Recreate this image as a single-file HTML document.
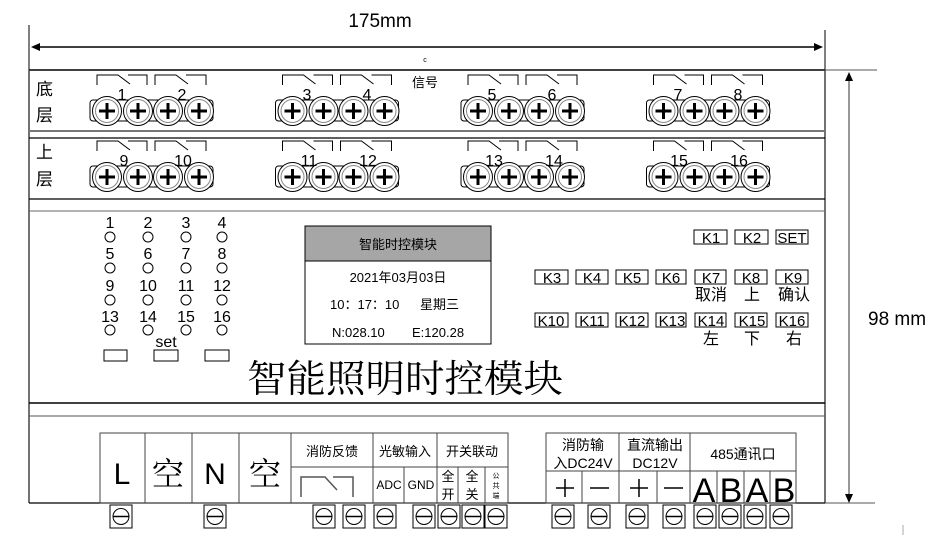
<!DOCTYPE html>
<html><head><meta charset="utf-8"><style>
html,body{margin:0;padding:0;background:#fff}
svg{display:block}
text{font-family:"Liberation Sans","Noto Sans CJK SC",sans-serif;fill:#000}
.s{font-family:"Noto Serif CJK SC","Liberation Serif",serif}
</style></head><body>
<svg width="944" height="537" viewBox="0 0 944 537" xmlns="http://www.w3.org/2000/svg">
<defs>
<symbol id="scr" overflow="visible">
<circle cx="0" cy="0" r="14.5" fill="#fff" stroke="#000" stroke-width="1"/>
<circle cx="0" cy="0" r="11.5" fill="#fff" stroke="#888" stroke-width="1"/>
<path d="M-8 0H8M0 -8V8" stroke="#000" stroke-width="3"/>
</symbol>
<symbol id="grp" overflow="visible">
<rect x="-17" y="-11" width="123" height="21" rx="3" fill="none" stroke="#000"/>
<use href="#scr" x="0" y="0"/><use href="#scr" x="31" y="0"/><use href="#scr" x="61" y="0"/><use href="#scr" x="92" y="0"/>
<path d="M-10 -26V-36H11L23 -27M21 -36H40V-26" fill="none" stroke="#000"/>
<path d="M48 -26V-36H69L81 -27M79 -36H99V-26" fill="none" stroke="#000"/>
</symbol>
<symbol id="bs" overflow="visible">
<rect x="0" y="0" width="22" height="23" fill="#fff" stroke="#000"/>
<circle cx="11" cy="11.5" r="8" fill="none" stroke="#000"/>
<path d="M3 11.5H19" stroke="#000" stroke-width="1.5"/>
</symbol>
</defs>

<path d="M29 25V70M825 30V70" stroke="#000"/>
<path d="M36 47H818" stroke="#000" stroke-width="1.5"/>
<path d="M31 47L40 43V51Z M823 47L814 43V51Z" fill="#000"/>
<text x="380" y="27" font-size="19" text-anchor="middle">175mm</text>
<text x="425" y="62" font-size="7" text-anchor="middle">c</text>

<path d="M825 70H877M825 503H875" stroke="#555"/>
<path d="M849 78V496" stroke="#777" stroke-width="1.5"/>
<path d="M849 72L845 81H853Z M849 503L845 494H853Z" fill="#000"/>
<text x="868" y="325" font-size="19">98 mm</text>
<path d="M903 525V535" stroke="#aaa"/>

<path d="M29 70H825" stroke="#000" stroke-width="1.5"/>
<path d="M29 70V503M825 70V503" stroke="#444" stroke-width="1.5"/>
<path d="M29 131H825" stroke="#777" stroke-width="2"/>
<path d="M29 138H825M29 199H825" stroke="#000" stroke-width="1.2"/>
<path d="M29 211H825" stroke="#666" stroke-width="1"/>
<path d="M29 403H825" stroke="#000" stroke-width="1.5"/>
<path d="M29 416H825" stroke="#555" stroke-width="1"/>
<path d="M29 503H825" stroke="#000" stroke-width="1.2"/>

<text x="36" y="95" font-size="17">底</text>
<text x="36" y="121" font-size="17">层</text>
<text x="36" y="158" font-size="17">上</text>
<text x="36" y="185" font-size="17">层</text>
<text x="412" y="87" font-size="13">信号</text>

<use href="#grp" x="107" y="111"/><use href="#grp" x="292.5" y="111"/>
<use href="#grp" x="478" y="111"/><use href="#grp" x="663.5" y="111"/>
<use href="#grp" x="107" y="177"/><use href="#grp" x="292.5" y="177"/>
<use href="#grp" x="478" y="177"/><use href="#grp" x="663.5" y="177"/>
<g font-size="16" text-anchor="middle">
<text x="122" y="100">1</text><text x="182" y="100">2</text>
<text x="307" y="100">3</text><text x="367" y="100">4</text>
<text x="492" y="100">5</text><text x="552" y="100">6</text>
<text x="678" y="100">7</text><text x="738" y="100">8</text>
<text x="124" y="166">9</text><text x="183" y="166">10</text>
<text x="309" y="166">11</text><text x="368" y="166">12</text>
<text x="494" y="166">13</text><text x="554" y="166">14</text>
<text x="679" y="166">15</text><text x="739" y="166">16</text>
</g>

<g font-size="16" text-anchor="middle">
<text x="110" y="228">1</text><text x="148" y="228">2</text><text x="186" y="228">3</text><text x="222" y="228">4</text>
<text x="110" y="259">5</text><text x="148" y="259">6</text><text x="186" y="259">7</text><text x="222" y="259">8</text>
<text x="110" y="291">9</text><text x="148" y="291">10</text><text x="186" y="291">11</text><text x="222" y="291">12</text>
<text x="110" y="322">13</text><text x="148" y="322">14</text><text x="186" y="322">15</text><text x="222" y="322">16</text>
<text x="166" y="347">set</text>
</g>
<g fill="none" stroke="#000">
<circle cx="110" cy="237" r="5"/><circle cx="148" cy="237" r="5"/><circle cx="186" cy="237" r="5"/><circle cx="222" cy="237" r="5"/>
<circle cx="110" cy="268" r="5"/><circle cx="148" cy="268" r="5"/><circle cx="186" cy="268" r="5"/><circle cx="222" cy="268" r="5"/>
<circle cx="110" cy="300" r="5"/><circle cx="148" cy="300" r="5"/><circle cx="186" cy="300" r="5"/><circle cx="222" cy="300" r="5"/>
<circle cx="110" cy="330" r="5"/><circle cx="148" cy="330" r="5"/><circle cx="186" cy="330" r="5"/><circle cx="222" cy="330" r="5"/>
<rect x="104" y="350" width="23" height="11"/><rect x="154" y="350" width="24" height="11"/><rect x="205" y="350" width="24" height="11"/>
</g>

<rect x="305" y="226" width="186" height="35" fill="#a6a6a6" stroke="#000"/>
<rect x="305" y="261" width="186" height="83" fill="#fff" stroke="#000"/>
<text x="398" y="249" font-size="13" text-anchor="middle">智能时控模块</text>
<text x="398" y="282" font-size="13" text-anchor="middle">2021年03月03日</text>
<text x="330" y="309" font-size="13">10：17：10</text>
<text x="420" y="309" font-size="13">星期三</text>
<text x="332" y="337" font-size="13">N:028.10</text>
<text x="412" y="337" font-size="13">E:120.28</text>

<text class="s" x="247" y="392" font-size="38" textLength="316" lengthAdjust="spacingAndGlyphs">智能照明时控模块</text>

<g fill="none" stroke="#000">
<rect x="694" y="230" width="33" height="14"/><rect x="735" y="230" width="33" height="14"/><rect x="776" y="230" width="32" height="14"/>
<rect x="535" y="270" width="33" height="14"/><rect x="576" y="270" width="32" height="14"/><rect x="616" y="270" width="32" height="14"/><rect x="656" y="270" width="30" height="14"/><rect x="695" y="270" width="31" height="14"/><rect x="735" y="270" width="32" height="14"/><rect x="776" y="270" width="32" height="14"/>
<rect x="535" y="313" width="33" height="14"/><rect x="576" y="313" width="32" height="14"/><rect x="616" y="313" width="32" height="14"/><rect x="656" y="313" width="30" height="14"/><rect x="695" y="313" width="31" height="14"/><rect x="735" y="313" width="32" height="14"/><rect x="776" y="313" width="32" height="14"/>
</g>
<g font-size="15" text-anchor="middle">
<text x="711" y="243">K1</text><text x="752" y="243">K2</text><text x="792" y="243">SET</text>
<text x="552" y="283">K3</text><text x="592" y="283">K4</text><text x="632" y="283">K5</text><text x="671" y="283">K6</text><text x="711" y="283">K7</text><text x="751" y="283">K8</text><text x="793" y="283">K9</text>
<text x="551" y="326">K10</text><text x="592" y="326">K11</text><text x="632" y="326">K12</text><text x="672" y="326">K13</text><text x="711" y="326">K14</text><text x="752" y="326">K15</text><text x="792" y="326">K16</text>
<text x="711" y="300" font-size="16">取消</text><text x="752" y="300" font-size="16">上</text><text x="794" y="300" font-size="16">确认</text>
<text x="711" y="344" font-size="16">左</text><text x="752" y="344" font-size="16">下</text><text x="794" y="344" font-size="16">右</text>
</g>

<g fill="none" stroke="#444">
<rect x="100" y="433" width="408" height="70"/>
<path d="M145 433V503M192 433V503M239 433V503M291 433V503M373 433V503M437 433V503"/>
<path d="M291 467H508M404 467V503M458 467V503M485 467V503"/>
</g>
<text x="122" y="484" font-size="30" text-anchor="middle">L</text>
<text class="s" x="168" y="485" font-size="32" text-anchor="middle">空</text>
<text x="215" y="484" font-size="30" text-anchor="middle">N</text>
<text class="s" x="265" y="485" font-size="32" text-anchor="middle">空</text>
<path d="M301 497V477H325L337 490M333 477H353V497" fill="none" stroke="#555" stroke-width="1.5"/>
<g font-size="13" text-anchor="middle">
<text x="332" y="456">消防反馈</text><text x="405" y="456">光敏输入</text><text x="472" y="456">开关联动</text>
<text x="389" y="489" font-size="12">ADC</text><text x="421" y="489" font-size="12">GND</text>
<text x="448" y="481">全</text><text x="448" y="499">开</text>
<text x="472" y="481">全</text><text x="472" y="499">关</text>
</g>
<g font-size="7" text-anchor="middle"><text x="496" y="478">公</text><text x="496" y="488">共</text><text x="496" y="498">端</text></g>

<g fill="none" stroke="#444">
<rect x="546" y="433" width="250" height="70"/>
<path d="M619 433V503M690 433V503M546 471H796M582 471V503M657 471V503M717 471V503M744 471V503M770 471V503"/>
</g>
<g font-size="14" text-anchor="middle">
<text x="583" y="450">消防输</text><text x="583" y="468">入DC24V</text>
<text x="655" y="450">直流输出</text><text x="655" y="468">DC12V</text>
<text x="743" y="459">485通讯口</text>
</g>
<g stroke="#000" stroke-width="1.5">
<path d="M556 488H574M565 479V497M590 488H609M630 488H648M639 479V497M664 488H683"/>
</g>
<g font-size="34" text-anchor="middle">
<text x="704" y="502">A</text><text x="731" y="502">B</text><text x="757" y="502">A</text><text x="784" y="502">B</text>
</g>

<use href="#bs" x="110" y="505"/><use href="#bs" x="204" y="505"/>
<use href="#bs" x="313" y="505"/><use href="#bs" x="343" y="505"/><use href="#bs" x="374" y="505"/>
<use href="#bs" x="413" y="505"/><use href="#bs" x="438" y="505"/><use href="#bs" x="462" y="505"/><use href="#bs" x="485" y="505"/>
<use href="#bs" x="552" y="505"/><use href="#bs" x="588" y="505"/><use href="#bs" x="626" y="505"/><use href="#bs" x="663" y="505"/>
<use href="#bs" x="694" y="505"/><use href="#bs" x="719" y="505"/><use href="#bs" x="744" y="505"/><use href="#bs" x="770" y="505"/>
</svg>
</body></html>
